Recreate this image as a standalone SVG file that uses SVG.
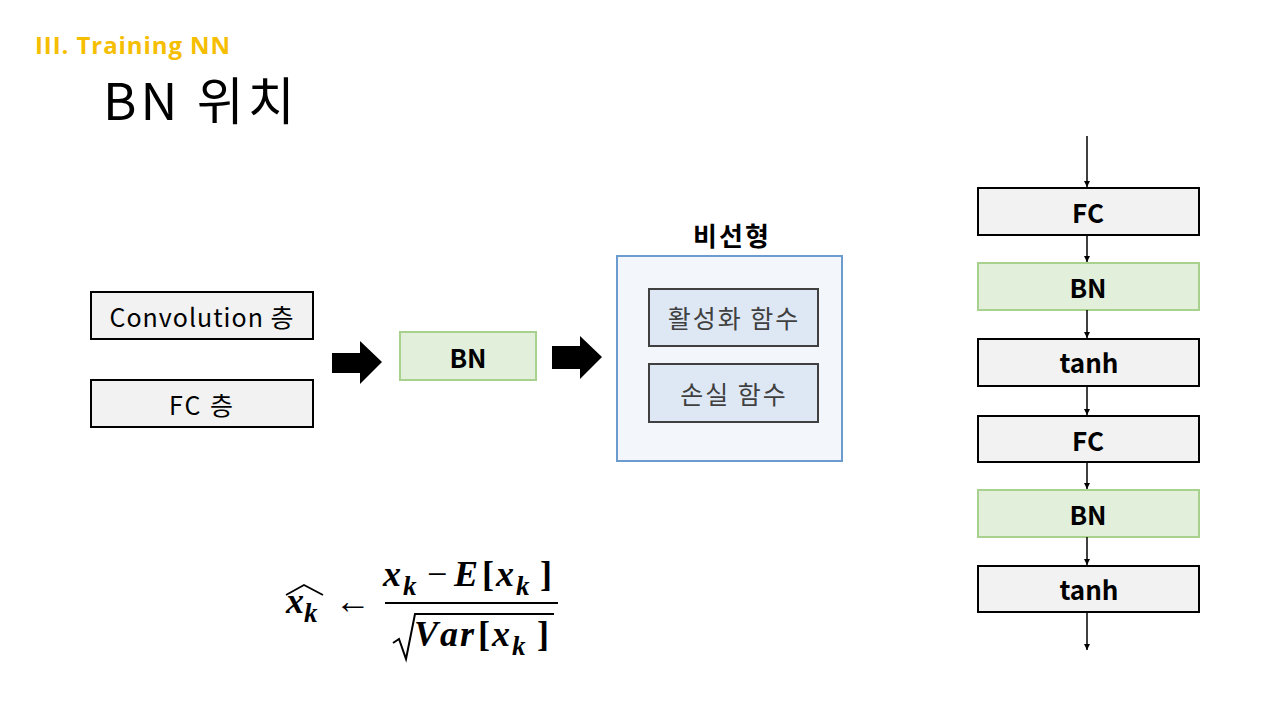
<svg xmlns="http://www.w3.org/2000/svg" width="1280" height="720" viewBox="0 0 1280 720">
<defs>
<style>
.t{font-family:"Open Sans","Noto Sans CJK KR",sans-serif;}
.k{font-family:"Noto Sans CJK KR","Open Sans",sans-serif;}
.gray{fill:#f2f2f2;stroke:#000;stroke-width:2;}
.green{fill:#e2efda;stroke:#a9d18e;stroke-width:2;}
.lbl{font-size:25px;fill:#000;text-anchor:middle;dominant-baseline:central;}
.b{font-weight:bold;font-size:26px;}
.inner{fill:#dee8f4;stroke:#404040;stroke-width:2;}
.conn{stroke:#000;stroke-width:1.5;fill:none;marker-end:url(#ah);}
.m{font-family:"Liberation Serif","DejaVu Serif",serif;font-weight:bold;font-style:italic;font-size:36px;fill:#000;}
.s{font-size:27px;}
.n{font-style:normal;}
</style>
<marker id="ah" viewBox="0 0 10 10" refX="10" refY="5" markerWidth="6" markerHeight="6" markerUnits="userSpaceOnUse" orient="auto"><path d="M0,0L10,5L0,10z" fill="#000"/></marker>
</defs>
<rect width="1280" height="720" fill="#fff"/>
<text x="35" y="54" class="t" font-weight="bold" font-size="24" fill="#F5BE00" textLength="195" lengthAdjust="spacing">III. Training NN</text>
<text x="103" y="120" class="k" font-size="51" fill="#000" letter-spacing="4">BN 위치</text>

<g id="conv"><rect x="91" y="292" width="222" height="47" class="gray"/><text x="202" y="316" class="k lbl" letter-spacing="1">Convolution 층</text></g>
<g id="fc-layer"><rect x="91" y="380" width="222" height="47" class="gray"/><text x="202" y="404" class="k lbl" letter-spacing="2">FC 층</text></g>
<g id="bn-mid"><rect x="400" y="332" width="136" height="48" class="green"/><text x="468" y="356" class="k lbl b">BN</text></g>
<g id="nonlinear">
<text x="732" y="234" class="k lbl b" letter-spacing="2">비선형</text>
<rect x="617" y="256" width="225" height="205" fill="#f3f7fc" stroke="#6c9bcf" stroke-width="2"/>
</g>
<g id="activation"><rect x="649" y="289" width="169" height="57" class="inner"/><text x="734" y="317" class="k lbl" font-size="27" letter-spacing="2" style="fill:#404040">활성화 함수</text></g>
<g id="loss"><rect x="649" y="364" width="169" height="58" class="inner"/><text x="734" y="393" class="k lbl" font-size="27" letter-spacing="2" style="fill:#404040">손실 함수</text></g>

<g id="r-fc1"><rect x="978" y="188" width="221" height="47" class="gray"/><text x="1088" y="211" class="k lbl b">FC</text></g>
<g id="r-bn1"><rect x="978" y="263" width="221" height="47" class="green"/><text x="1088" y="286" class="k lbl b">BN</text></g>
<g id="r-tanh1"><rect x="978" y="339" width="221" height="47" class="gray"/><text x="1089" y="361" class="k lbl b">tanh</text></g>
<g id="r-fc2"><rect x="978" y="416" width="221" height="46" class="gray"/><text x="1088" y="439" class="k lbl b">FC</text></g>
<g id="r-bn2"><rect x="978" y="490" width="221" height="47" class="green"/><text x="1088" y="513" class="k lbl b">BN</text></g>
<g id="r-tanh2"><rect x="978" y="566" width="221" height="46" class="gray"/><text x="1089" y="588" class="k lbl b">tanh</text></g>

<g id="connectors">
<path d="M332,353H360V341L382,362L360,384V373H332z" fill="#000"/>
<path d="M552,346H580V336L602,357L580,379V369H552z" fill="#000"/>
<line x1="1087" y1="136" x2="1087" y2="187" class="conn"/>
<line x1="1087" y1="235" x2="1087" y2="262" class="conn"/>
<line x1="1087" y1="310" x2="1087" y2="338" class="conn"/>
<line x1="1087" y1="386" x2="1087" y2="415" class="conn"/>
<line x1="1087" y1="462" x2="1087" y2="489" class="conn"/>
<line x1="1087" y1="537" x2="1087" y2="565" class="conn"/>
<line x1="1087" y1="612" x2="1087" y2="650" class="conn"/>
</g>

<g id="formula">
<text class="m"><tspan x="286" y="613">x</tspan><tspan class="s" x="304" y="622">k</tspan></text>
<path d="M286,595L304,585L323,595" fill="none" stroke="#000" stroke-width="1.8"/>
<text x="335" y="613" font-family="Liberation Serif,serif" font-size="36" fill="#000">←</text>
<text class="m"><tspan x="383" y="586">x</tspan><tspan class="s" x="403" y="595">k</tspan><tspan class="n" font-weight="normal" x="427" y="586">−</tspan><tspan x="454" y="586">E</tspan><tspan class="n" x="482" y="586">[</tspan><tspan x="496" y="586">x</tspan><tspan class="s" x="516" y="595">k</tspan><tspan class="n" x="540" y="586">]</tspan></text>
<line x1="385" y1="603" x2="558" y2="603" stroke="#000" stroke-width="2"/>
<path d="M393,643L399,639L406,659L415,614H554" fill="none" stroke="#000" stroke-width="2"/>
<text class="m"><tspan x="414" y="646">V</tspan><tspan x="440" y="646">a</tspan><tspan x="460" y="646">r</tspan><tspan class="n" x="478" y="646">[</tspan><tspan x="492" y="646">x</tspan><tspan class="s" x="512" y="655">k</tspan><tspan class="n" x="537" y="646">]</tspan></text>
</g>
</svg>
